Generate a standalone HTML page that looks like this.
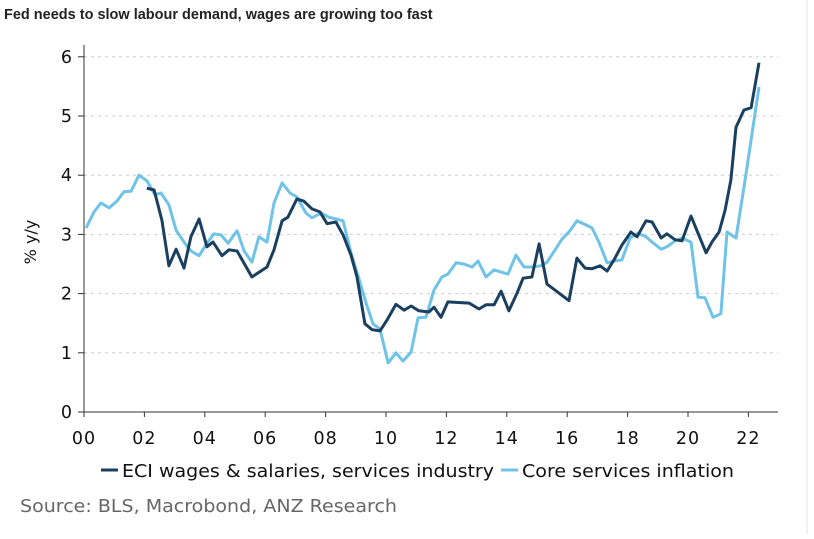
<!DOCTYPE html>
<html><head><meta charset="utf-8"><style>
body{margin:0;background:#fff;}
svg text{font-family:"DejaVu Sans","Liberation Sans",sans-serif;}
</style></head><body>
<svg width="814" height="534" viewBox="0 0 814 534">
<text x="4" y="19" style="font-family:'Liberation Sans',sans-serif;font-weight:bold;font-size:14.5px" fill="#222">Fed needs to slow labour demand, wages are growing too fast</text>
<line x1="807" y1="0" x2="807" y2="534" stroke="#e6e6e6"/>
<g id="grid"></g><g id="axes"></g><g id="series"></g>
<text transform="translate(36,242) rotate(-90)" text-anchor="middle" font-size="16" fill="#111">% y/y</text>
<g>
<line x1="101" y1="470" x2="118" y2="470" stroke="#1b3f5e" stroke-width="3"/>
<text x="122" y="477" font-size="18" textLength="372" lengthAdjust="spacingAndGlyphs" fill="#111">ECI wages &amp; salaries, services industry</text>
<line x1="501" y1="470" x2="518" y2="470" stroke="#6ec3e6" stroke-width="3"/>
<text x="522" y="477" font-size="18" textLength="212" lengthAdjust="spacingAndGlyphs" fill="#111">Core services inflation</text>
</g>
<text x="20" y="512" font-size="18" textLength="377" lengthAdjust="spacingAndGlyphs" fill="#666">Source: BLS, Macrobond, ANZ Research</text>
</svg>
<script>
const xTicks=[0,2,4,6,8,10,12,14,16,18,20,22];
const xTickLabels=["00","02","04","06","08","10","12","14","16","18","20","22"];
const yTicks=[0,1,2,3,4,5,6];
const eciYears=[2.08,2.32,2.58,2.81,3.05,3.31,3.54,3.81,4.07,4.27,4.57,4.80,5.07,5.56,6.06,6.29,6.56,6.75,7.05,7.28,7.55,7.81,8.05,8.34,8.58,8.84,9.04,9.30,9.54,9.80,10.03,10.33,10.60,10.83,11.09,11.42,11.59,11.82,12.05,12.75,13.08,13.31,13.58,13.81,14.07,14.34,14.54,14.83,15.07,15.33,16.06,16.32,16.59,16.82,17.09,17.32,17.55,17.81,18.11,18.31,18.61,18.81,19.11,19.30,19.57,19.80,20.10,20.33,20.60,20.79,21.03,21.23,21.42,21.59,21.85,22.09,22.35];
const eciValues=[3.78,3.75,3.24,2.47,2.75,2.43,2.96,3.26,2.79,2.87,2.64,2.74,2.72,2.28,2.45,2.74,3.23,3.29,3.60,3.56,3.43,3.38,3.18,3.21,2.99,2.65,2.28,1.49,1.39,1.37,1.55,1.82,1.72,1.79,1.71,1.69,1.77,1.60,1.86,1.84,1.74,1.81,1.81,2.04,1.71,2.01,2.26,2.28,2.84,2.16,1.88,2.60,2.43,2.42,2.47,2.38,2.57,2.82,3.04,2.96,3.23,3.21,2.94,3.01,2.91,2.89,3.31,3.02,2.69,2.87,3.04,3.41,3.92,4.81,5.10,5.14,5.90];
const coreYears=[0.07,0.33,0.56,0.83,1.09,1.32,1.56,1.82,2.09,2.35,2.55,2.81,3.05,3.31,3.54,3.81,4.07,4.30,4.54,4.77,5.07,5.30,5.56,5.79,6.06,6.29,6.56,6.82,7.05,7.35,7.55,7.85,8.11,8.34,8.58,8.84,9.07,9.34,9.57,9.80,10.07,10.33,10.56,10.83,11.06,11.32,11.59,11.85,12.05,12.32,12.58,12.85,13.05,13.31,13.58,13.84,14.04,14.30,14.57,14.83,15.13,15.33,15.60,15.83,16.09,16.32,16.62,16.82,17.05,17.32,17.55,17.81,18.08,18.34,18.61,18.81,19.11,19.30,19.57,19.80,20.10,20.33,20.56,20.83,21.09,21.29,21.59,21.89,22.35];
const coreValues=[3.11,3.38,3.53,3.45,3.56,3.72,3.73,4.00,3.90,3.67,3.70,3.50,3.07,2.87,2.72,2.64,2.85,3.01,2.99,2.85,3.06,2.72,2.53,2.96,2.87,3.53,3.87,3.70,3.63,3.36,3.28,3.36,3.29,3.26,3.23,2.69,2.31,1.84,1.49,1.40,0.83,1.00,0.86,1.01,1.59,1.60,2.06,2.28,2.33,2.52,2.50,2.45,2.55,2.28,2.40,2.36,2.33,2.65,2.45,2.45,2.47,2.53,2.74,2.92,3.06,3.23,3.16,3.11,2.87,2.52,2.55,2.57,2.94,3.02,2.96,2.87,2.75,2.79,2.89,2.94,2.87,1.94,1.93,1.60,1.66,3.04,2.94,3.92,5.49];
const NS="http://www.w3.org/2000/svg";
function X(yr){return 84+yr*30.2;}
function Y(v){return 412-v*59.2;}
function mk(tag,attrs,parent){const e=document.createElementNS(NS,tag);for(const k in attrs)e.setAttribute(k,attrs[k]);parent.appendChild(e);return e;}
const grid=document.getElementById('grid'),axes=document.getElementById('axes'),series=document.getElementById('series');
yTicks.forEach(v=>{
 if(v>0){const g=mk('line',{x1:84,x2:778,y1:Y(v),y2:Y(v),stroke:'#c8d0d6','stroke-dasharray':'3,4','stroke-width':1},grid);
 
 }
 const t=mk('line',{x1:78,x2:84,y1:Y(v),y2:Y(v),stroke:'#333'},axes);
 
 
 const l=mk('text',{x:72,y:Y(v)+6,'text-anchor':'end','font-size':17.5,fill:'#111'},axes);l.textContent=v;
 
 
});
const ya=mk('line',{x1:84,x2:84,y1:45,y2:412,stroke:'#333'},axes);


const xa=mk('line',{x1:84,x2:778,y1:412,y2:412,stroke:'#333'},axes);


xTicks.forEach((yr,i)=>{
 const t=mk('line',{x1:X(yr),x2:X(yr),y1:412,y2:417,stroke:'#333'},axes);
 
 
 const l=mk('text',{x:X(yr),y:444,'text-anchor':'middle','font-size':17.5,'letter-spacing':1,fill:'#111'},axes);l.textContent=xTickLabels[i];
 
 
});
function line(xs,vs){return xs.map((x,i)=>X(x).toFixed(1)+','+Y(vs[i]).toFixed(1)).join(' ');}
const core=mk('polyline',{points:line(coreYears,coreValues),fill:'none',stroke:'#6ec3e6','stroke-width':3,'stroke-linejoin':'round'},series);


const eci=mk('polyline',{points:line(eciYears,eciValues),fill:'none',stroke:'#1b3f5e','stroke-width':3,'stroke-linejoin':'round'},series);


</script>
</body></html>
